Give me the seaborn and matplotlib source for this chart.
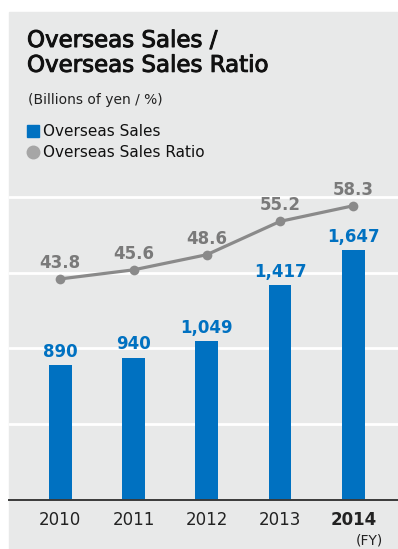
import matplotlib
matplotlib.use("Agg")
import matplotlib.pyplot as plt
import matplotlib.patheffects as pe
from matplotlib.patches import Rectangle
from matplotlib.lines import Line2D
import seaborn as sns
import pandas as pd

# Data
years = ["2010", "2011", "2012", "2013", "2014"]
overseas_sales = [890, 940, 1049, 1417, 1647]
sales_labels = ["890", "940", "1,049", "1,417", "1,647"]
overseas_ratio = [43.8, 45.6, 48.6, 55.2, 58.3]

BLUE = "#0071c1"
GREY = "#8a8a8a"
PANEL = "#e8e9e9"

sns.set_theme(style="white")
plt.rcParams["font.family"] = ["DejaVu Sans"]

W, H = 398, 549
fig = plt.figure(figsize=(W / 100, H / 100), dpi=100, facecolor="white")

# grey panel behind everything
fig.patches.append(Rectangle((9 / W, 0), 1 - 9 / W, 1 - 12 / H,
                             transform=fig.transFigure, color=PANEL, zorder=-10))

left, bottom = 9 / W, 1 - 500 / H
ax = fig.add_axes([left, bottom, 1 - left, (500 - 180) / H])
ax.set_facecolor(PANEL)

df = pd.DataFrame({"year": years, "sales": overseas_sales, "ratio": overseas_ratio})

sns.barplot(data=df, x="year", y="sales", color=BLUE, width=0.31,
            saturation=1, linewidth=0, ax=ax, zorder=3)
ax.set_xlim(-0.70, 4.61)
ax.set_ylim(0, 2112)
ax.set_yticks([500, 1000, 1500, 2000])
ax.yaxis.grid(True, color="white", linewidth=2)
ax.set_axisbelow(True)
ax.tick_params(axis="y", left=False, right=False, labelleft=False, length=0)
ax.tick_params(axis="x", bottom=False, length=0, pad=8)
ax.set_xlabel("")
ax.set_ylabel("")
for s in ["top", "right", "left"]:
    ax.spines[s].set_visible(False)
ax.spines["bottom"].set_color("#3a3a3a")
ax.spines["bottom"].set_linewidth(1.4)
ax.spines["bottom"].set_zorder(5)
for lbl in ax.get_xticklabels():
    lbl.set_fontsize(12)
    lbl.set_color("#222222")
ax.get_xticklabels()[-1].set_fontweight("bold")

for i, (v, t) in enumerate(zip(overseas_sales, sales_labels)):
    ax.annotate(t, (i, v), xytext=(0, 3), textcoords="offset points",
                ha="center", va="bottom", fontsize=12, fontweight="bold",
                color=BLUE)

# ratio line on twin axis
ax2 = ax.twinx()
ax2.set_ylim(0, 63.4)
df["pos"] = range(len(years))
sns.lineplot(data=df, x="pos", y="ratio", color=GREY, linewidth=2.3,
             marker="o", markersize=7, markeredgewidth=0, ax=ax2, zorder=4)
ax2.set_xlim(-0.70, 4.61)
ax2.axis("off")
for i, v in enumerate(overseas_ratio):
    ax2.annotate(f"{v:.1f}", (i, v), xytext=(0, 5), textcoords="offset points",
                 ha="center", va="bottom", fontsize=12, fontweight="bold",
                 color="#7a7a7a")

fig.text(369 / W, 1 - 541 / H, "(FY)", ha="center", va="center",
         fontsize=10, color="#222222")

# titles
fig.text(27 / W, 1 - 29 / H, "Overseas Sales /\nOverseas Sales Ratio",
         ha="left", va="top", fontsize=16.5, color="#111111",
         linespacing=1.1,
         path_effects=[pe.withStroke(linewidth=0.7, foreground="#111111")])
fig.text(28 / W, 1 - 100 / H, "(Billions of yen / %)", ha="left",
         va="center", fontsize=10, color="#222222")

handles = [Line2D([], [], marker="s", linestyle="none", color=BLUE, markersize=9),
           Line2D([], [], marker="o", linestyle="none", color="#a6a6a6", markersize=9)]
fig.legend(handles, ["Overseas Sales", "Overseas Sales Ratio"],
           loc="upper left", bbox_to_anchor=(28 / W, 1 - 124 / H),
           frameon=False, fontsize=11, handlelength=0.7, handletextpad=0.25,
           labelspacing=0.4, borderpad=0, borderaxespad=0,
           labelcolor="#111111")

fig.savefig("out.png", dpi=100, facecolor="white")
